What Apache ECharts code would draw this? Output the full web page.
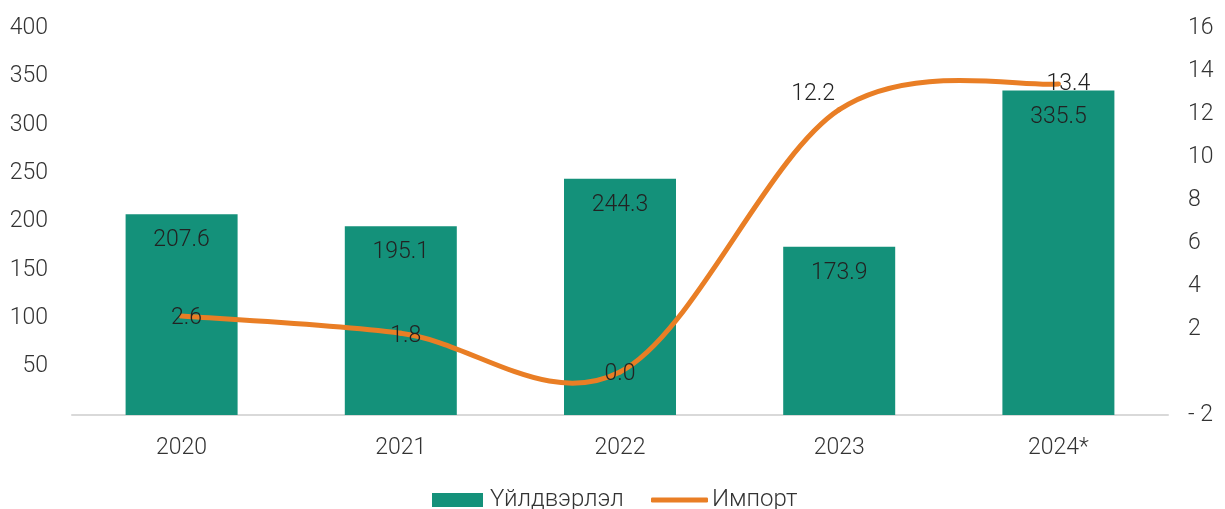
<!DOCTYPE html>
<html><head><meta charset="utf-8">
<script src="https://cdn.jsdelivr.net/npm/echarts@6/dist/echarts.min.js"></script>
<style>html,body{margin:0;padding:0;background:#fff}#c{width:1225px;height:509px}</style>
</head><body><div id="c"></div>
<script>
const categories = ['2020', '2021', '2022', '2023', '2024*'];
const production = [207.6, 195.1, 244.3, 173.9, 335.5];
const imports = [2.6, 1.8, 0.0, 12.2, 13.4];
const seriesNames = ['Үйлдвэрлэл', 'Импорт'];

const FONT = 'Roboto';
const TXT = '#333333';
const LBL = '#222222';
const ORANGE = '#E97E25';
const GREEN = '#14917A';
const FS = 23;
// label nudges (pixels) for the import line labels, as placed in the original
const importLabelNudge = [[5, 2], [5, 3], [0, 2], [-26, -15], [10, 0]];

const chart = echarts.init(document.getElementById('c'));

function renderImport(params, api) {
  const i = params.dataIndex;
  const n = imports.length;
  const clamp = k => Math.max(0, Math.min(n - 1, k));
  const P = k => api.coord([clamp(k), imports[clamp(k)]]);
  const children = [];
  if (i < n - 1) {
    const p0 = P(i - 1), p1 = P(i), p2 = P(i + 1), p3 = P(i + 2);
    const c1 = [p1[0] + (p2[0] - p0[0]) / 6, p1[1] + (p2[1] - p0[1]) / 6];
    const c2 = [p2[0] - (p3[0] - p1[0]) / 6, p2[1] - (p3[1] - p1[1]) / 6];
    children.push({
      type: 'bezierCurve', z2: 1,
      shape: { x1: p1[0], y1: p1[1], x2: p2[0], y2: p2[1], cpx1: c1[0], cpy1: c1[1], cpx2: c2[0], cpy2: c2[1] },
      style: { stroke: ORANGE, lineWidth: 5, fill: null, lineCap: 'round' }
    });
  }
  const pt = P(i);
  const nd = importLabelNudge[i] || [0, 0];
  children.push({
    type: 'text', z2: 10,
    style: { text: imports[i].toFixed(1), x: pt[0] + nd[0], y: pt[1] + nd[1], align: 'center', verticalAlign: 'middle',
      fontSize: FS, fontFamily: FONT, fontWeight: 300, fill: LBL }
  });
  return { type: 'group', children };
}

chart.setOption({
  animation: false,
  textStyle: { fontFamily: FONT },
  grid: { left: 72, right: 57, top: 28, bottom: 94 },
  legend: [
    { data: [seriesNames[0]], left: 432, top: 488, padding: 0, itemWidth: 51, itemHeight: 14, itemGap: 7,
      icon: 'rect',
      textStyle: { fontSize: 24, color: TXT, fontFamily: FONT, fontWeight: 300, padding: [0, 0, 0, 2] } },
    { data: [{ name: seriesNames[1], icon: 'roundRect', itemStyle: { color: ORANGE } }],
      left: 651, top: 488, padding: 0, itemWidth: 57, itemHeight: 5, itemGap: 5,
      textStyle: { fontSize: 24, color: TXT, fontFamily: FONT, fontWeight: 300, padding: [0, 0, 0, -1] } }
  ],
  xAxis: {
    type: 'category', data: categories,
    axisLine: { lineStyle: { color: '#d9d9d9', width: 2 } },
    axisTick: { show: false },
    axisLabel: { fontSize: FS, color: TXT, margin: 22, fontFamily: FONT, fontWeight: 300 }
  },
  yAxis: [
    { type: 'value', min: 0, max: 400, interval: 50,
      splitLine: { show: false }, axisLine: { show: false }, axisTick: { show: false },
      axisLabel: { fontSize: FS, color: TXT, margin: 24, fontFamily: FONT, fontWeight: 300,
        formatter: v => v === 0 ? '' : String(v) } },
    { type: 'value', min: -2, max: 16, interval: 2,
      splitLine: { show: false }, axisLine: { show: false }, axisTick: { show: false },
      axisLabel: { fontSize: FS, color: TXT, margin: 20, fontFamily: FONT, fontWeight: 300,
        formatter: v => v === 0 ? '' : (v < 0 ? '- ' + Math.abs(v) : String(v)) } }
  ],
  series: [
    { name: seriesNames[0], type: 'bar', data: production, barWidth: 112, yAxisIndex: 0,
      itemStyle: { color: GREEN },
      label: { show: true, position: 'insideTop', distance: 15, fontSize: FS, color: LBL,
        fontFamily: FONT, fontWeight: 300, formatter: p => p.value.toFixed(1) } },
    { name: seriesNames[1], type: 'custom', yAxisIndex: 1, z: 3,
      data: imports.map((v, k) => [k, v]),
      encode: { x: 0, y: 1 },
      itemStyle: { color: ORANGE },
      renderItem: renderImport }
  ]
});
</script></body></html>
